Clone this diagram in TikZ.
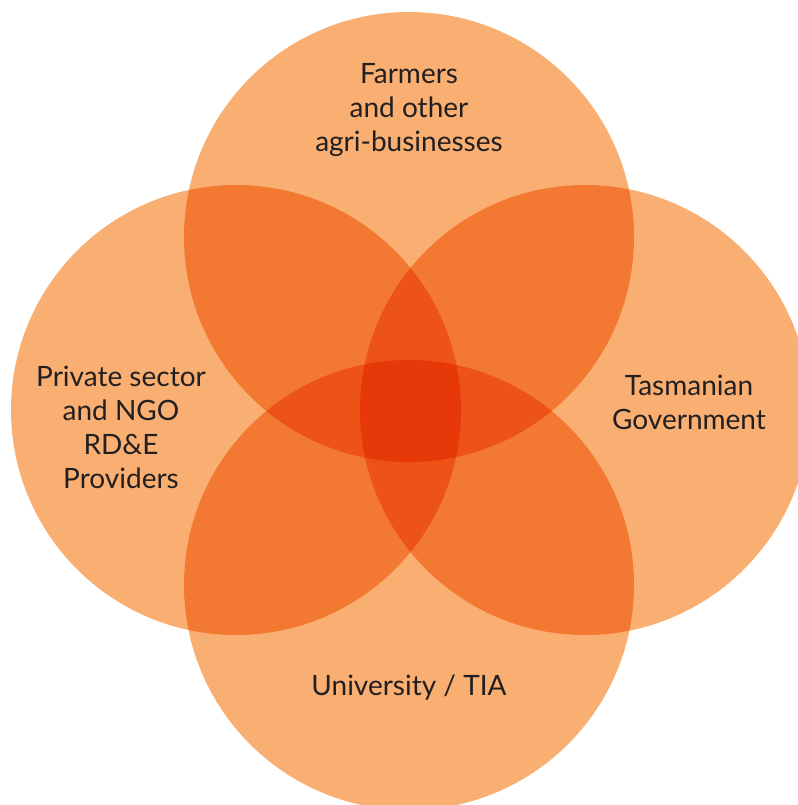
\documentclass[tikz,border=0pt]{standalone}
\usepackage{fontspec}
\setmainfont{Lato}
\definecolor{petal}{RGB}{249,175,114}
\definecolor{ink}{RGB}{35,31,32}

\begin{document}
\begin{tikzpicture}[x=1pt, y=-1pt,
    petal/.style={circle, fill=petal, inner sep=0pt, minimum size=450pt},
    tag/.style={align=center, text=ink, font=\fontsize{28}{34}\selectfont}]

  \useasboundingbox (0,0) rectangle (797,805);

  \begin{scope}[blend group=multiply]
    \node[petal] (top) at (409,237) {};
    \node[petal] (left) at (236,410) {};
    \node[petal] (right) at (585,410) {};
    \node[petal] (bottom) at (409,585) {};
  \end{scope}

  \node[tag] (farmers) at (409,110) {Farmers\\and other\\agri-businesses};
  \node[tag] (private) at (121,427) {Private sector\\and NGO\\RD\&E\\Providers};
  \node[tag] (gov) at (689,402) {Tasmanian\\Government};
  \node[tag] (uni) at (409,688) {University / TIA};
\end{tikzpicture}
\end{document}
